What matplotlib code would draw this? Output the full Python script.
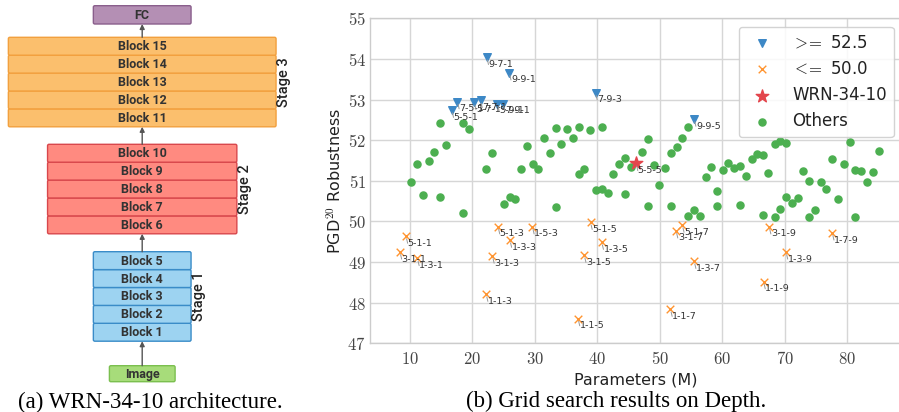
import numpy as np
import matplotlib
matplotlib.use('Agg')
import matplotlib.pyplot as plt
from matplotlib.patches import FancyBboxPatch
from matplotlib.ticker import FuncFormatter

plt.rcParams['mathtext.fontset'] = 'cm'

# ---------------- data ----------------
# (a) architecture
stage_names = ['Stage 1', 'Stage 2', 'Stage 3']
stage_blocks = [[1, 2, 3, 4, 5], [6, 7, 8, 9, 10], [11, 12, 13, 14, 15]]

# (b) grid search on depth
blue_x = [22.3, 25.9, 39.7, 16.7, 17.6, 20.3, 21.3, 24.0, 24.9, 55.5]
blue_y = [54.04, 53.66, 53.17, 52.74, 52.95, 52.93, 52.98, 52.90, 52.90, 52.52]
blue_lbl = ['9-7-1', '9-9-1', '7-9-3', '5-5-1', '7-5-1', '5-7-1', '7-7-1',
            '5-9-1', '7-9-1', '9-9-5']

orange_x = [9.36, 8.4, 11.2, 22.2, 23.2, 24.1, 26.0, 29.6, 36.9, 37.9, 38.9, 40.7,
            53.6, 52.6, 55.5, 51.7, 67.5, 70.2, 66.6, 77.6]
orange_y = [49.64, 49.25, 49.09, 48.21, 49.15, 49.87, 49.54, 49.87, 47.61, 49.17,
            49.98, 49.49, 49.91, 49.77, 49.02, 47.84, 49.87, 49.25, 48.52, 49.72]
orange_lbl = ['5-1-1', '3-1-1', '1-3-1', '1-1-3', '3-1-3', '5-1-3', '1-3-3', '1-5-3',
              '1-1-5', '3-1-5', '5-1-5', '1-3-5', '5-1-7', '3-1-7', '1-3-7', '1-1-7',
              '3-1-9', '1-3-9', '1-1-9', '1-7-9']

star_x = [46.2]
star_y = [51.43]
star_lbl = ['5-5-5']

green_x = [14.81, 18.54, 19.45, 15.77, 13.89, 11.17, 13.00, 23.13, 22.17, 10.16,
           12.04, 14.81, 18.54, 33.33, 35.09, 37.01, 38.87, 40.69, 31.46, 36.10,
           28.69, 34.22, 32.42, 44.37, 29.65, 27.77, 30.54, 43.46, 45.38, 42.55,
           37.91, 37.01, 39.78, 40.69, 41.65, 44.37, 25.96, 26.86, 25.05, 33.33,
           54.51, 53.59, 48.15, 52.70, 47.14, 51.79, 49.02, 50.83, 58.24, 60.96,
           60.16, 61.92, 62.88, 64.70, 65.55, 66.51, 63.79, 67.36, 57.34, 49.91,
           59.15, 48.15, 51.79, 55.47, 54.51, 56.38, 59.15, 62.83, 66.51, 68.43,
           69.28, 70.24, 80.39, 85.03, 77.61, 79.43, 72.96, 81.24, 82.25, 84.07,
           73.92, 75.80, 83.16, 76.65, 70.24, 72.07, 71.16, 78.57, 69.28, 74.84,
           68.38, 73.92, 81.29]
green_y = [52.43, 52.42, 52.28, 51.88, 51.72, 51.41, 51.49, 51.68, 51.28, 50.96,
           50.66, 50.60, 50.20, 52.30, 52.28, 52.32, 52.26, 52.33, 52.06, 52.06,
           51.86, 51.91, 51.69, 51.55, 51.42, 51.28, 51.28, 51.41, 51.34, 51.17,
           51.29, 51.17, 50.78, 50.81, 50.70, 50.67, 50.61, 50.56, 50.42, 50.35,
           52.32, 52.05, 52.03, 51.84, 51.71, 51.68, 51.38, 51.31, 51.34, 51.45,
           51.26, 51.32, 51.37, 51.54, 51.66, 51.63, 51.13, 51.19, 51.09, 50.90,
           50.75, 50.39, 50.39, 50.28, 50.13, 50.14, 50.37, 50.40, 50.17, 51.91,
           51.99, 51.94, 51.95, 51.73, 51.54, 51.41, 51.25, 51.26, 51.25, 51.22,
           51.00, 50.98, 50.98, 50.80, 50.59, 50.57, 50.45, 50.54, 50.31, 50.29,
           50.10, 50.10, 50.12]

x_ticks = [10, 20, 30, 40, 50, 60, 70, 80]
y_ticks = [47, 48, 49, 50, 51, 52, 53, 54, 55]

W, H = 899, 412
fig = plt.figure(figsize=(W / 100, H / 100), dpi=100)

# ---------------- (a) architecture diagram ----------------
ax0 = fig.add_axes([0, 0, 300 / W, 1])
ax0.set_xlim(0, 300)
ax0.set_ylim(H, 0)
ax0.axis('off')

cx = 142.2
bh = 17.9
stage_w = [97.7, 189.3, 267.7]
stage_top = [251.7, 144.3, 37.3]
stage_fill = ['#9dd3f1', '#ff8a80', '#fbbf6d']
stage_edge = ['#3a8cc8', '#d8474c', '#f2a03e']
txt_kw = dict(ha='center', va='center', fontsize=9, fontweight='bold',
              color='#333333', family=['Roboto', 'DejaVu Sans'])


def box(x0, y0, w, h, fc, ec, label):
    p = FancyBboxPatch((x0, y0), w, h, boxstyle='round,pad=0,rounding_size=1.5',
                       fc=fc, ec=ec, lw=1.0)
    ax0.add_patch(p)
    ax0.text(x0 + w / 2, y0 + h / 2 + 0.5, label, **txt_kw)


def arrow(y_from, y_to):
    ax0.annotate('', xy=(cx, y_to), xytext=(cx, y_from),
                 arrowprops=dict(arrowstyle='-|>', color='#555555', lw=1.0,
                                 mutation_scale=7, shrinkA=0, shrinkB=0))


for s in range(3):
    w = stage_w[s]
    for j, b in enumerate(stage_blocks[s]):
        y0 = stage_top[s] + (4 - j) * bh
        box(cx - w / 2, y0, w, bh, stage_fill[s], stage_edge[s], 'Block %d' % b)
    ax0.text(cx + w / 2 + 8, stage_top[s] + 2.5 * bh, stage_names[s], rotation=90,
             ha='center', va='center', fontsize=10.5, color='#222222',
             fontweight='medium', family=['Roboto', 'DejaVu Sans'])

box(cx - 32.8, 365.7, 65.7, 16, '#a7dc7a', '#7bbf4f', 'Image')
box(cx - 48.85, 5.7, 97.7, 18.3, '#b48fb4', '#8a5f8c', 'FC')

arrow(365.7, stage_top[0] + 5 * bh)
arrow(stage_top[0], stage_top[1] + 5 * bh)
arrow(stage_top[1], stage_top[2] + 5 * bh)
arrow(stage_top[2], 5.7 + 18.3)

# ---------------- (b) scatter ----------------
ax = fig.add_axes([370 / W, 68.7 / H, 532 / W, 325 / H])
ax.set_xlim(3.6, 88.76)
ax.set_ylim(47, 55)
ax.set_axisbelow(True)
ax.grid(color='#d6d6d6', lw=1.0)
for sp in ax.spines.values():
    sp.set_color('#cccccc')
    sp.set_linewidth(1.0)
ax.set_xticks(x_ticks)
ax.set_yticks(y_ticks)
fmt = FuncFormatter(lambda v, p: '$%d$' % v)
ax.xaxis.set_major_formatter(fmt)
ax.yaxis.set_major_formatter(fmt)
ax.tick_params(length=0, labelsize=12, colors='#444444')
ax.tick_params(axis='x', pad=5)
ax.tick_params(axis='y', pad=3)

c_blue, c_orange, c_red, c_green = '#3d88c6', '#ff9430', '#e3454c', '#4caf50'

ax.scatter(blue_x, blue_y, marker='v', s=30, color=c_blue,
           label=r'$>\!\!=$ 52.5', zorder=3)
ax.scatter(orange_x, orange_y, marker='x', s=30, color=c_orange, lw=1.0,
           label=r'$<\!\!=$ 50.0', zorder=3)
ax.scatter(star_x, star_y, marker='*', s=90, color=c_red, label='WRN-34-10', zorder=4)
ax.scatter(green_x, green_y, marker='o', s=26, color=c_green, label='Others', zorder=2)


def annot(xs, ys, labels):
    for x, y, t in zip(xs, ys, labels):
        ax.annotate(t, xy=(x, y), xytext=(1.2, -5.2), textcoords='offset points',
                    fontsize=6.8, color='#333333', ha='left', va='center', zorder=5,
                    arrowprops=dict(arrowstyle='-', color='#999999', lw=0.7,
                                    shrinkA=0, shrinkB=2, relpos=(0, 0.5)))


annot(blue_x, blue_y, blue_lbl)
annot(orange_x, orange_y, orange_lbl)
annot(star_x, star_y, star_lbl)

ax.set_xlabel('Parameters (M)', fontsize=11.5, labelpad=3, color='#222222')
ax.set_ylabel('PGD$^{20}$ Robustness', fontsize=11.5, labelpad=3, color='#222222')

leg = ax.legend(loc='upper right', fontsize=12, frameon=True, fancybox=True,
                framealpha=0.85, edgecolor='#cccccc', borderaxespad=0.5)
for t in leg.get_texts():
    t.set_color('#222222')

# captions
fig.text(150 / W, 1 - 402 / H, '(a) WRN-34-10 architecture.', ha='center', va='center',
         family='Liberation Serif', fontsize=16.5)
fig.text(616 / W, 1 - 401 / H, '(b) Grid search results on Depth.', ha='center',
         va='center', family='Liberation Serif', fontsize=16.5)

fig.savefig('out.png', dpi=100)
